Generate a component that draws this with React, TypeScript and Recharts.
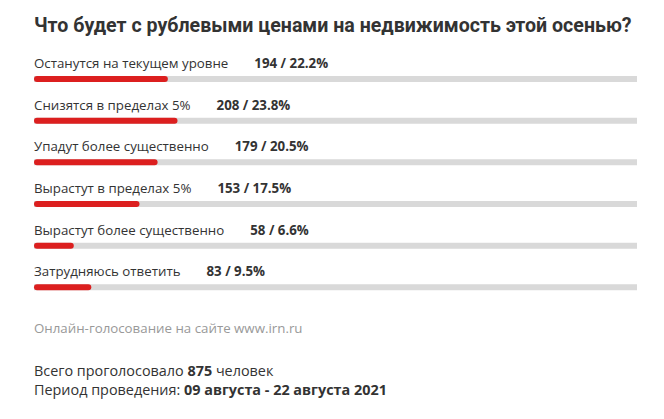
import React from "react";
import { BarChart, Bar, XAxis, YAxis, LabelList } from "recharts";

const answers = [
  "Останутся на текущем уровне",
  "Снизятся в пределах 5%",
  "Упадут более существенно",
  "Вырастут в пределах 5%",
  "Вырастут более существенно",
  "Затрудняюсь ответить",
];
const votes = [194, 208, 179, 153, 58, 83];
const shares = [22.2, 23.8, 20.5, 17.5, 6.6, 9.5];

const data = answers.map((name, i) => ({ name, votes: votes[i], share: shares[i] }));

const RED = "#dc1f1f";
const TRACK = "#d9d9d9";
const TEXT = "#333333";
const FONT = "'Open Sans', sans-serif";

function RowLabel(props: any) {
  const { x, y, index } = props;
  const row = data[index];
  return (
    <text x={x} y={y - 8} fontFamily={FONT} fontSize={13.3} fill={TEXT}>
      {row.name}
      <tspan dx={26} fontWeight={700}>
        {row.votes} / {row.share}%
      </tspan>
    </text>
  );
}

export default function App() {
  return (
    <div style={{ position: "relative", width: 664, height: 419, background: "#fff" }}>
      <style>{`body{margin:0}`}</style>
      <div
        style={{
          position: "absolute",
          left: 34,
          top: 14,
          fontFamily: "Roboto, sans-serif",
          fontWeight: 700,
          fontSize: 19.6,
          color: TEXT,
          whiteSpace: "nowrap",
        }}
      >
        Что будет с рублевыми ценами на недвижимость этой осенью?
      </div>
      <div style={{ position: "absolute", left: 0, top: 0 }}>
        <BarChart
          width={664}
          height={308}
          data={data}
          layout="vertical"
          margin={{ top: 58, right: 27, bottom: 0, left: 34 }}
        >
          <XAxis type="number" domain={[0, 100]} hide />
          <YAxis type="category" dataKey="name" hide />
          <Bar
            dataKey="share"
            barSize={6}
            fill={RED}
            radius={[3, 3, 3, 3]}
            background={{ fill: TRACK }}
            isAnimationActive={false}
          >
            <LabelList dataKey="share" content={<RowLabel />} />
          </Bar>
        </BarChart>
      </div>
      <div
        style={{
          position: "absolute",
          left: 34,
          top: 319,
          fontFamily: FONT,
          fontSize: 13.3,
          color: "#999",
          whiteSpace: "nowrap",
        }}
      >
        Онлайн-голосование на сайте www.irn.ru
      </div>
      <div
        style={{
          position: "absolute",
          left: 34,
          top: 361,
          fontFamily: FONT,
          fontSize: 14.4,
          lineHeight: "19px",
          color: TEXT,
          whiteSpace: "nowrap",
        }}
      >
        <div>
          Всего проголосовало <b>875</b> человек
        </div>
        <div>
          Период проведения: <b>09 августа - 22 августа 2021</b>
        </div>
      </div>
    </div>
  );
}
